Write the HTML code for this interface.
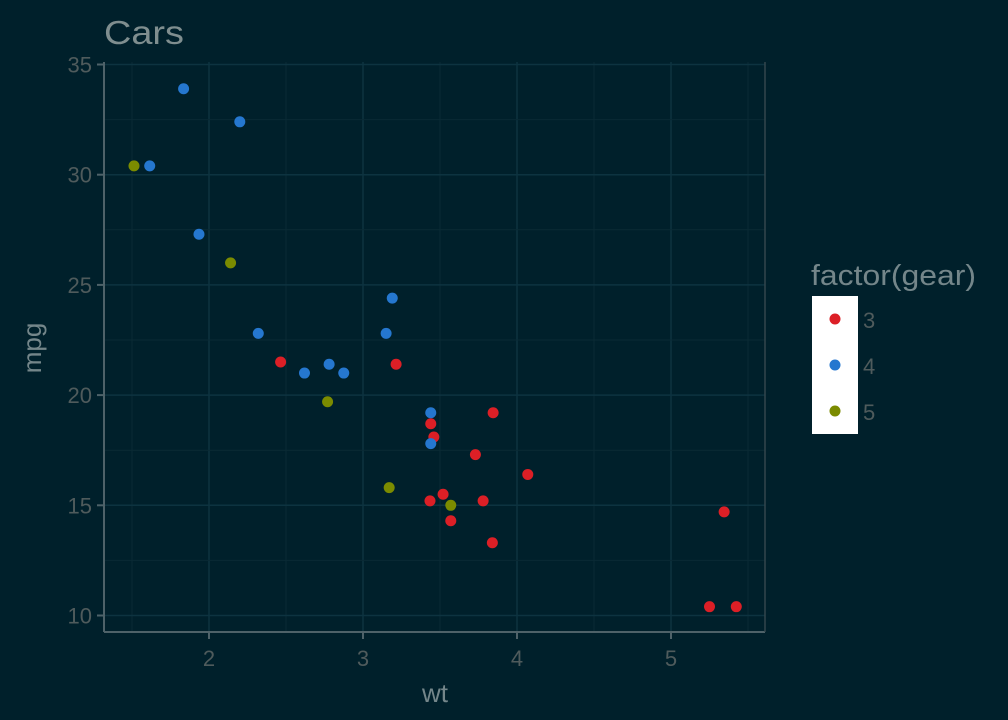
<!DOCTYPE html>
<html><head><meta charset="utf-8"><style>
body{margin:0;background:#00202b;}
svg{display:block;font-family:"Liberation Sans",sans-serif;}
</style></head><body>
<svg id="chart" width="1008" height="720">
<rect width="1008" height="720" fill="#00202b"/>
<text x="104" y="44" font-size="33" textLength="80" lengthAdjust="spacingAndGlyphs" fill="#7f8e8f">Cars</text>
<g id="grid"></g><g id="axes"></g><g id="pts"></g>
<text x="435" y="702" font-size="26" fill="#74868a" text-anchor="middle">wt</text>
<text transform="translate(41,348) rotate(-90)" font-size="26" fill="#74868a" text-anchor="middle">mpg</text>
<text x="811" y="285" font-size="29" textLength="165" lengthAdjust="spacingAndGlyphs" fill="#74868a">factor(gear)</text>
<rect x="812" y="296" width="46" height="138" fill="#ffffff"/>
<g id="legend"></g>
</svg>
<script>
const wt=[2.620,2.875,2.320,3.215,3.440,3.460,3.570,3.190,3.150,3.440,3.440,4.070,3.730,3.780,5.250,5.424,5.345,2.200,1.615,1.835,2.465,3.520,3.435,3.840,3.845,1.935,2.140,1.513,3.170,2.770,3.570,2.780];
const mpg=[21.0,21.0,22.8,21.4,18.7,18.1,14.3,24.4,22.8,19.2,17.8,16.4,17.3,15.2,10.4,10.4,14.7,32.4,30.4,33.9,21.5,15.5,15.2,13.3,19.2,27.3,26.0,30.4,15.8,19.7,15.0,21.4];
const gear=[4,4,4,3,3,3,3,4,4,4,4,3,3,3,3,3,3,4,4,4,3,3,3,3,3,4,5,5,5,5,5,4];
const xTicks=[2,3,4,5];
const yTicks=[10,15,20,25,30,35];
const levels=[3,4,5];
const colors={3:"#dc1f26",4:"#2577cf",5:"#7b8b00"};
const NS="http://www.w3.org/2000/svg";
const L=104,R=765,T=62,B=632;
const sx=v=>209+(v-2)*154;
const sy=v=>615.5-(v-10)*22.04;
function mk(tag,attrs,parent){const e=document.createElementNS(NS,tag);for(const k in attrs)e.setAttribute(k,attrs[k]);document.getElementById(parent).appendChild(e);return e;}
for(let v=1.5;v<=5.5;v+=0.5){const x=sx(v);const major=Number.isInteger(v);
 const g=mk('line',{x1:x,x2:x,y1:T,y2:B,stroke:major?'#0d3340':'#0a2a35','stroke-width':major?1.5:1},'grid');
 }
for(let v=10;v<=35;v+=2.5){const y=sy(v);const major=v%5===0;
 const g=mk('line',{x1:L,x2:R,y1:y,y2:y,stroke:major?'#0d3340':'#0a2a35','stroke-width':major?1.5:1},'grid');
 }
let a=mk('line',{x1:L,x2:L,y1:T,y2:B,stroke:'#4e6269','stroke-width':2},'axes');

a=mk('line',{x1:L,x2:R,y1:B,y2:B,stroke:'#4e6269','stroke-width':2},'axes');

a=mk('line',{x1:R,x2:R,y1:T,y2:B,stroke:'#33464d','stroke-width':1.5},'axes');

xTicks.forEach(v=>{const x=sx(v);
 let t=mk('line',{x1:x,x2:x,y1:B,y2:B+7,stroke:'#4e6269','stroke-width':2},'axes');
 
 const tx=mk('text',{x:x,y:B+34,'font-size':22,fill:'#4f5b5c','text-anchor':'middle'},'axes');tx.textContent=v;
 });
yTicks.forEach(v=>{const y=sy(v);
 let t=mk('line',{x1:L-7,x2:L,y1:y,y2:y,stroke:'#4e6269','stroke-width':2},'axes');
 
 const tx=mk('text',{x:L-12,y:y+8,'font-size':22,fill:'#4f5b5c','text-anchor':'end'},'axes');tx.textContent=v;
 });
wt.forEach((w,i)=>{const c=mk('circle',{cx:sx(w),cy:sy(mpg[i]),r:5.5,fill:colors[gear[i]]},'pts');
 });
levels.forEach((g,i)=>{const y=319+i*46;
 const c=mk('circle',{cx:835,cy:y,r:5.5,fill:colors[g]},'legend');
 
 const t=mk('text',{x:863,y:y+9,'font-size':22,fill:'#4f5b5c'},'legend');t.textContent=g;
 });
</script>
</body></html>
